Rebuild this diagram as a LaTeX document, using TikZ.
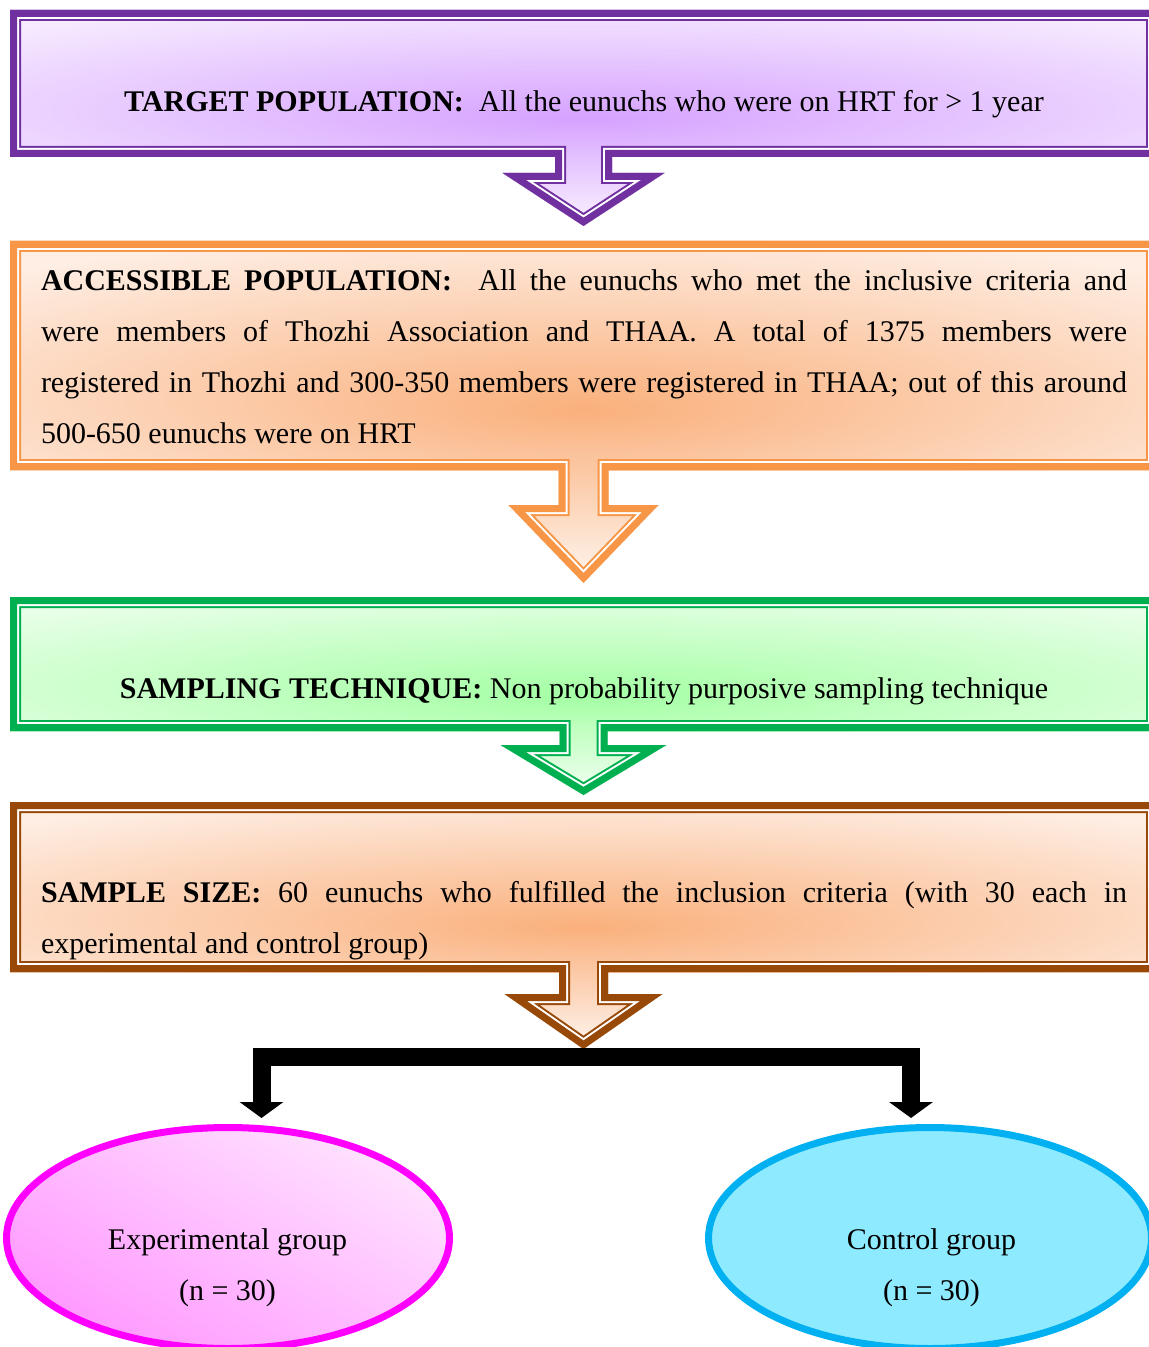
\documentclass[tikz,border=0pt]{standalone}
\usepackage{fontspec}
\setmainfont{Liberation Serif}
\usetikzlibrary{arrows.meta,calc,shapes.geometric}

\definecolor{lineP}{HTML}{7030A0}
\definecolor{lineO}{HTML}{F79646}
\definecolor{lineG}{HTML}{00B050}
\definecolor{lineB}{HTML}{984807}
\definecolor{glowP}{HTML}{D6A2FF}
\definecolor{edgeP}{HTML}{F6EAFF}
\definecolor{glowO}{HTML}{FAB07C}
\definecolor{edgeO}{HTML}{FEEEE4}
\definecolor{glowG}{HTML}{A4FFA4}
\definecolor{edgeG}{HTML}{E8FFE8}
\definecolor{lineM}{HTML}{FF00FF}
\definecolor{pinkA}{HTML}{FFE2FF}
\definecolor{pinkB}{HTML}{FF99FF}
\definecolor{lineC}{HTML}{00B0F0}
\definecolor{fillC}{HTML}{8EEAFF}

\pgfdeclareradialshading{glowpurple}{\pgfpoint{0bp}{-12bp}}{color(0bp)=(glowP); color(36bp)=(edgeP); color(100bp)=(edgeP)}
\pgfdeclareradialshading{gloworange}{\pgfpoint{0bp}{-12bp}}{color(0bp)=(glowO); color(36bp)=(edgeO); color(100bp)=(edgeO)}
\pgfdeclareradialshading{glowgreen}{\pgfpoint{0bp}{-12bp}}{color(0bp)=(glowG); color(36bp)=(edgeG); color(100bp)=(edgeG)}

\begin{document}
\begin{tikzpicture}[x=0.5pt,y=0.5pt,
    box/.style={rectangle,minimum width=573.5pt,inner sep=0pt,outer sep=0pt,shade},
    txt/.style={font=\fontsize{15}{25.5}\selectfont,inner sep=0pt},
    para/.style={txt,text width=543pt,align=justify},
    group/.style={ellipse,line width=3.5pt,minimum width=221.5pt,minimum height=110.5pt,inner sep=0pt},
    fork/.style={line width=9pt,-{Triangle[length=8pt,width=21.5pt]}}]

    \useasboundingbox (0,0) rectangle (1149,-1347);

    \node [box,minimum height=73.5pt,shading=glowpurple] (b1) at (583.5,-83.5) {};
    \node [box,minimum height=114.5pt,shading=gloworange] (b2) at (583.5,-355.5) {};
    \node [box,minimum height=67pt,shading=glowgreen] (b3) at (583.5,-664) {};
    \node [box,minimum height=85pt,shading=gloworange] (b4) at (583.5,-887) {};

    \foreach \b/\c/\m/\s/\w/\h/\t in {b1/lineP/glowP/28.5/81/173/226, b2/lineO/glowO/25/75/505/583,
        b3/lineG/glowG/24/83/745/795, b4/lineB/glowO/24.5/79/994/1049}{
        \begin{scope}
            \path[save path=\rim] (\b.south west) -- (\b.north west) -- (\b.north east) -- (\b.south east)
                -- ($(\b.south)+(\s,0)$) -- (583.5+\s,-\h) -- (583.5+\w,-\h) -- (583.5,-\t)
                -- (583.5-\w,-\h) -- (583.5-\s,-\h) -- ($(\b.south)+(-\s,0)$) -- cycle;
            \clip[use path=\rim];
            \shade[top color=\m!75!white,bottom color=\m!12!white] ($(\b.south)+(-100,10)$) rectangle (683.5,-\t);
            \draw[use path=\rim,draw=\c,line width=11pt];
            \draw[use path=\rim,draw=white,line width=9pt];
            \draw[use path=\rim,draw=\c,line width=7pt];
        \end{scope}
    }

    \node [txt] (t1) at (584,-104) {\textbf{TARGET POPULATION:}~ All the eunuchs who were on HRT for > 1 year};
    \node [para] (t2) at (584,-357) {\textbf{ACCESSIBLE POPULATION:}~ All the eunuchs who met the inclusive criteria and\linebreak
        were members of Thozhi Association and THAA. A total of 1375 members were\linebreak
        registered in Thozhi and 300-350 members were registered in THAA; out of this around\linebreak
        500-650 eunuchs were on HRT};
    \node [txt] (t3) at (584,-691) {\textbf{SAMPLING TECHNIQUE:} Non probability purposive sampling technique};
    \node [para] (t4) at (584,-921) {\textbf{SAMPLE SIZE:} 60 eunuchs who fulfilled the inclusion criteria (with 30 each in\linebreak
        experimental and control group)};

    \node [group,draw=lineM,top color=pinkA,bottom color=pinkB,shading angle=-30] (e1) at (228,-1238) {};
    \node [group,draw=lineC,fill=fillC] (e2) at (930,-1238) {};
    \node [txt,align=center] (l1) at (227.5,-1268) {Experimental group\\(n = 30)};
    \node [txt,align=center] (l2) at (931.5,-1268) {Control group\\(n = 30)};

    \coordinate (split) at (583.5,-1057);
    \draw[fork] (split) -| ([xshift=16.75pt,yshift=3pt]e1.north);
    \draw[fork] (split) -| ([xshift=-9.5pt,yshift=3pt]e2.north);

\end{tikzpicture}
\end{document}
